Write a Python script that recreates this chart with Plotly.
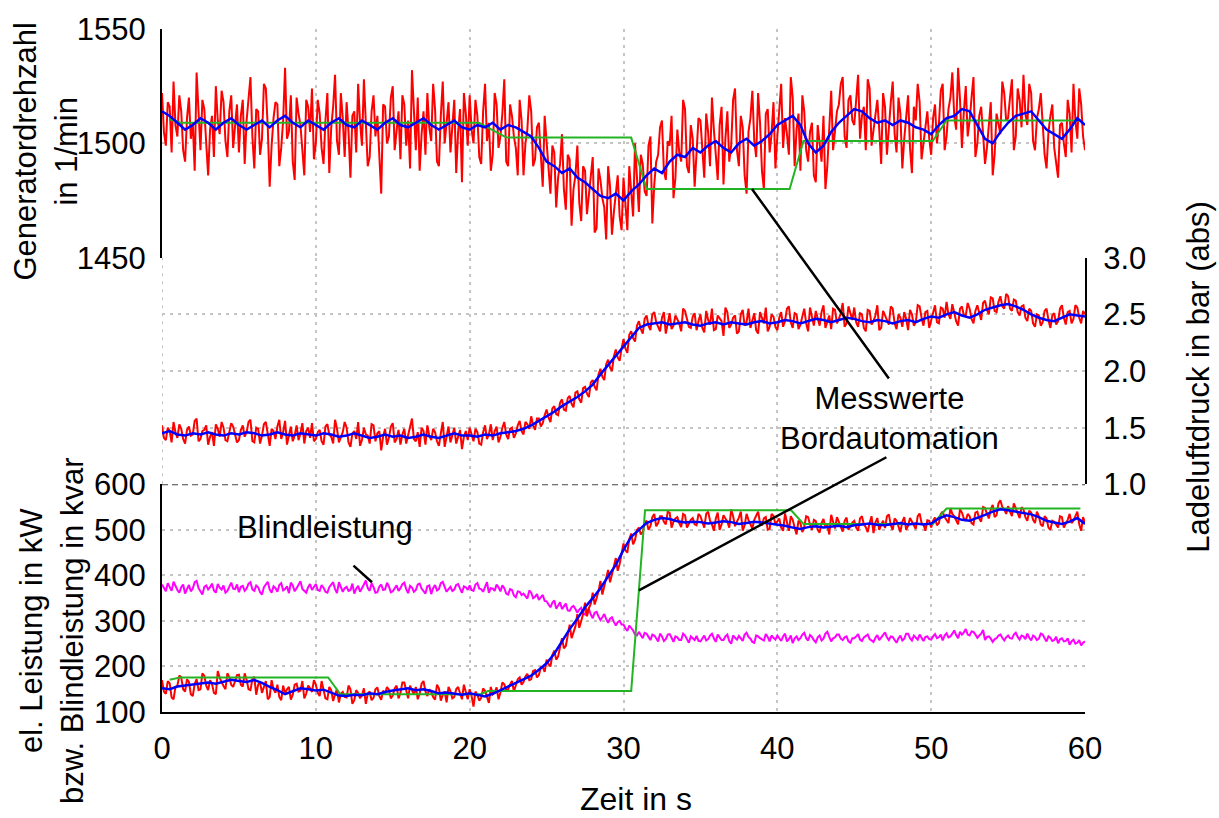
import numpy as np
import plotly.graph_objects as go

# ---------------- raw samples: "even" at t = 0, 0.25, ... 60 ; "odd" at t = 0.125, 0.375, ... 59.875 ----------------
# generator speed (1/min)
speed_raw_even = [
    1522, 1499, 1516, 1527, 1503, 1514, 1492, 1520, 1509, 1531, 1497, 1515, 1486, 1512, 1525, 1504, 1518, 1494, 1521, 1507,
    1496, 1519, 1510, 1529, 1489, 1514, 1502, 1524, 1481, 1511, 1517, 1498, 1533, 1505, 1492, 1520, 1508, 1486, 1516, 1524,
    1500, 1513, 1491, 1522, 1507, 1530, 1495, 1511, 1518, 1485, 1514, 1526, 1499, 1509, 1494, 1521, 1512, 1478, 1516, 1503,
    1525, 1506, 1493, 1517, 1510, 1532, 1497, 1488, 1514, 1522, 1501, 1515, 1490, 1527, 1508, 1496, 1519, 1505, 1483, 1513,
    1521, 1500, 1512, 1491, 1526, 1509, 1495, 1517, 1503, 1528, 1490, 1512, 1498, 1519, 1486, 1506, 1514, 1493, 1509, 1481,
    1500, 1478, 1496, 1485, 1504, 1471, 1493, 1480, 1499, 1466, 1488, 1477, 1494, 1463, 1484, 1472, 1490, 1460, 1479, 1468,
    1485, 1462, 1480, 1500, 1470, 1491, 1477, 1503, 1482, 1495, 1510, 1484, 1499, 1476, 1506, 1492, 1515, 1487, 1502, 1494,
    1510, 1485, 1505, 1520, 1493, 1508, 1482, 1514, 1499, 1524, 1490, 1507, 1478, 1511, 1501, 1522, 1488, 1513, 1496, 1518,
    1503, 1526, 1511, 1495, 1520, 1506, 1488, 1514, 1492, 1509, 1483, 1501, 1512, 1490, 1523, 1505, 1517, 1529, 1498, 1521,
    1508, 1530, 1512, 1497, 1524, 1505, 1519, 1491, 1516, 1509, 1527, 1496, 1513, 1502, 1521, 1487, 1510, 1518, 1500, 1514,
    1495, 1517, 1508, 1526, 1503, 1520, 1512, 1533, 1498, 1525, 1510, 1529, 1500, 1516, 1491, 1507, 1486, 1513, 1504, 1522,
    1511, 1528, 1503, 1519, 1530, 1508, 1522, 1497, 1515, 1506, 1489, 1512, 1498, 1485, 1509, 1494, 1513, 1526, 1502, 1517,
    1497,
]
speed_raw_odd = [
    1505, 1518, 1496, 1508, 1521, 1497, 1511, 1502, 1488, 1513, 1519, 1500, 1506, 1494, 1510, 1523, 1501, 1514, 1498, 1517,
    1512, 1491, 1520, 1503, 1515, 1495, 1526, 1507, 1499, 1518, 1490, 1510, 1502, 1521, 1484, 1513, 1497, 1519, 1505, 1493,
    1519, 1498, 1510, 1487, 1516, 1501, 1522, 1494, 1505, 1512, 1496, 1509, 1528, 1490, 1514, 1503, 1493, 1517, 1500, 1520,
    1497, 1514, 1521, 1499, 1489, 1511, 1520, 1504, 1495, 1507, 1526, 1492, 1512, 1500, 1518, 1509, 1487, 1515, 1522, 1499,
    1506, 1519, 1494, 1514, 1501, 1488, 1522, 1498, 1513, 1492, 1517, 1503, 1486, 1510, 1500, 1521, 1490, 1507, 1495, 1512,
    1487, 1499, 1472, 1491, 1480, 1495, 1464, 1486, 1474, 1490, 1469, 1483, 1461, 1489, 1476, 1458, 1481, 1470, 1486, 1462,
    1473, 1490, 1468, 1486, 1495, 1479, 1499, 1465, 1492, 1507, 1488, 1501, 1512, 1485, 1496, 1519, 1490, 1508, 1481, 1511,
    1497, 1513, 1490, 1506, 1484, 1516, 1502, 1492, 1519, 1497, 1512, 1486, 1505, 1523, 1494, 1509, 1480, 1515, 1504, 1489,
    1517, 1498, 1504, 1529, 1490, 1513, 1521, 1497, 1505, 1486, 1508, 1492, 1480, 1505, 1497, 1514, 1526, 1503, 1519, 1510,
    1521, 1502, 1516, 1528, 1499, 1513, 1506, 1522, 1495, 1518, 1504, 1520, 1489, 1511, 1498, 1516, 1526, 1493, 1509, 1502,
    1511, 1500, 1523, 1497, 1515, 1531, 1506, 1519, 1514, 1503, 1520, 1494, 1512, 1504, 1498, 1518, 1495, 1509, 1527, 1510,
    1520, 1497, 1524, 1507, 1513, 1526, 1501, 1511, 1522, 1495, 1505, 1517, 1492, 1508, 1500, 1519, 1496, 1510, 1524, 1503,
]
# smoothed speed, every 0.5 s
speed_avg = [
    1514, 1512, 1509, 1506, 1508, 1511, 1509, 1506, 1509, 1511,
    1508, 1506, 1508, 1510, 1507, 1510, 1512, 1509, 1507, 1510,
    1508, 1506, 1509, 1511, 1508, 1507, 1510, 1508, 1506, 1509,
    1511, 1508, 1507, 1509, 1511, 1508, 1506, 1508, 1510, 1507,
    1506, 1508, 1507, 1509, 1506, 1508, 1507, 1505, 1503, 1498,
    1492, 1490, 1487, 1489, 1485, 1483, 1480, 1477, 1476, 1478,
    1475, 1479, 1482, 1486, 1489, 1487, 1492, 1495, 1494, 1498,
    1496, 1499, 1501, 1498, 1496, 1500, 1502, 1499, 1501, 1504,
    1508, 1510, 1512, 1508, 1500, 1496, 1499, 1505, 1509, 1512,
    1515, 1514, 1511, 1509, 1510, 1508, 1510, 1509, 1507, 1506,
    1504, 1508, 1511, 1512, 1515, 1514, 1508, 1502, 1500, 1505,
    1509, 1512, 1513, 1514, 1510, 1506, 1504, 1502, 1506, 1511,
    1508,
]
speed_set_t = [0.5, 1.2, 20.6, 22.4, 30.5, 31.5, 40.8, 41.7, 50.1, 51.0, 59.8]
speed_set = [1510.5, 1509, 1509, 1502.5, 1502.5, 1480, 1480, 1501, 1501, 1510, 1510]

# charge air pressure (bar abs)
pressure_raw_even = [
    1.52, 1.39, 1.47, 1.55, 1.41, 1.49, 1.36, 1.51, 1.44, 1.58, 1.40, 1.48, 1.35, 1.46, 1.53, 1.42, 1.50, 1.38, 1.54, 1.44,
    1.39, 1.52, 1.46, 1.57, 1.37, 1.49, 1.43, 1.55, 1.34, 1.47, 1.51, 1.40, 1.56, 1.44, 1.38, 1.52, 1.45, 1.36, 1.50, 1.54,
    1.40, 1.48, 1.35, 1.53, 1.42, 1.57, 1.37, 1.46, 1.50, 1.33, 1.47, 1.55, 1.39, 1.44, 1.36, 1.52, 1.45, 1.30, 1.49, 1.41,
    1.54, 1.40, 1.35, 1.49, 1.43, 1.58, 1.38, 1.33, 1.47, 1.52, 1.39, 1.46, 1.34, 1.55, 1.42, 1.37, 1.50, 1.41, 1.31, 1.47,
    1.50, 1.38, 1.46, 1.35, 1.52, 1.44, 1.39, 1.51, 1.42, 1.55, 1.40, 1.50, 1.45, 1.56, 1.44, 1.53, 1.60, 1.48, 1.58, 1.54,
    1.66, 1.55, 1.69, 1.61, 1.75, 1.65, 1.78, 1.68, 1.82, 1.72, 1.86, 1.77, 1.92, 1.83, 2.02, 1.92, 2.10, 2.00, 2.19, 2.09,
    2.28, 2.16, 2.35, 2.26, 2.44, 2.33, 2.49, 2.36, 2.52, 2.38, 2.47, 2.33, 2.51, 2.40, 2.46, 2.35, 2.53, 2.39, 2.48, 2.36,
    2.50, 2.34, 2.45, 2.55, 2.37, 2.47, 2.31, 2.52, 2.41, 2.49, 2.35, 2.54, 2.43, 2.38, 2.51, 2.33, 2.47, 2.56, 2.39, 2.48,
    2.36, 2.52, 2.44, 2.57, 2.38, 2.50, 2.41, 2.55, 2.35, 2.48, 2.53, 2.40, 2.58, 2.44, 2.37, 2.54, 2.46, 2.60, 2.42, 2.51,
    2.56, 2.39, 2.50, 2.35, 2.53, 2.44, 2.58, 2.38, 2.49, 2.41, 2.55, 2.37, 2.47, 2.52, 2.36, 2.50, 2.43, 2.57, 2.40, 2.53,
    2.45, 2.58, 2.42, 2.55, 2.61, 2.46, 2.52, 2.40, 2.57, 2.49, 2.55, 2.42, 2.58, 2.45, 2.62, 2.50, 2.64, 2.52, 2.66, 2.55,
    2.66, 2.53, 2.62, 2.49, 2.58, 2.44, 2.53, 2.39, 2.49, 2.43, 2.55, 2.38, 2.51, 2.44, 2.58, 2.41, 2.53, 2.46, 2.56, 2.42,
    2.50,
]
pressure_raw_odd = [
    1.41, 1.50, 1.37, 1.46, 1.53, 1.40, 1.48, 1.43, 1.56, 1.38, 1.47, 1.52, 1.42, 1.34, 1.49, 1.55, 1.39, 1.45, 1.51, 1.37,
    1.48, 1.42, 1.55, 1.38, 1.50, 1.36, 1.53, 1.44, 1.49, 1.40, 1.57, 1.46, 1.35, 1.51, 1.43, 1.39, 1.54, 1.47, 1.41, 1.38,
    1.46, 1.38, 1.51, 1.44, 1.36, 1.49, 1.41, 1.55, 1.37, 1.45, 1.40, 1.34, 1.50, 1.43, 1.53, 1.38, 1.47, 1.42, 1.35, 1.51,
    1.37, 1.48, 1.44, 1.36, 1.52, 1.40, 1.46, 1.50, 1.35, 1.43, 1.49, 1.38, 1.45, 1.33, 1.51, 1.44, 1.36, 1.48, 1.42, 1.39,
    1.43, 1.49, 1.36, 1.46, 1.40, 1.53, 1.47, 1.37, 1.50, 1.44, 1.49, 1.41, 1.52, 1.47, 1.55, 1.49, 1.52, 1.58, 1.51, 1.61,
    1.59, 1.67, 1.62, 1.72, 1.66, 1.76, 1.71, 1.81, 1.75, 1.85, 1.80, 1.90, 1.86, 1.97, 1.95, 2.06, 2.03, 2.13, 2.12, 2.20,
    2.20, 2.32, 2.29, 2.40, 2.37, 2.46, 2.40, 2.50, 2.43, 2.35, 2.52, 2.44, 2.37, 2.49, 2.42, 2.55, 2.45, 2.38, 2.51, 2.44,
    2.38, 2.53, 2.41, 2.36, 2.49, 2.44, 2.56, 2.38, 2.47, 2.33, 2.50, 2.40, 2.55, 2.45, 2.36, 2.52, 2.42, 2.35, 2.50, 2.39,
    2.47, 2.39, 2.55, 2.43, 2.51, 2.37, 2.48, 2.42, 2.56, 2.40, 2.46, 2.52, 2.38, 2.49, 2.55, 2.42, 2.51, 2.39, 2.57, 2.45,
    2.43, 2.51, 2.38, 2.54, 2.41, 2.49, 2.36, 2.53, 2.45, 2.57, 2.42, 2.50, 2.39, 2.46, 2.54, 2.40, 2.58, 2.47, 2.52, 2.38,
    2.52, 2.43, 2.56, 2.47, 2.50, 2.59, 2.44, 2.55, 2.49, 2.60, 2.46, 2.53, 2.50, 2.60, 2.54, 2.65, 2.53, 2.61, 2.57, 2.68,
    2.55, 2.63, 2.52, 2.57, 2.47, 2.55, 2.42, 2.50, 2.40, 2.53, 2.45, 2.49, 2.41, 2.55, 2.47, 2.52, 2.42, 2.58, 2.47, 2.53,
]
pressure_avg = [
    1.45, 1.47, 1.44, 1.43, 1.45, 1.44, 1.46, 1.44, 1.43, 1.45,
    1.44, 1.46, 1.45, 1.43, 1.44, 1.46, 1.44, 1.43, 1.45, 1.44,
    1.43, 1.45, 1.44, 1.42, 1.43, 1.45, 1.43, 1.41, 1.42, 1.44,
    1.42, 1.43, 1.41, 1.42, 1.44, 1.42, 1.41, 1.43, 1.45, 1.43,
    1.43, 1.42, 1.44, 1.43, 1.45, 1.46, 1.47, 1.49, 1.52, 1.56,
    1.60, 1.64, 1.69, 1.73, 1.77, 1.82, 1.88, 1.97, 2.05, 2.13,
    2.21, 2.30, 2.38, 2.41, 2.42, 2.43, 2.41, 2.42, 2.43, 2.41,
    2.40, 2.42, 2.43, 2.41, 2.43, 2.42, 2.41, 2.43, 2.44, 2.42,
    2.43, 2.45, 2.44, 2.42, 2.44, 2.46, 2.45, 2.43, 2.45, 2.47,
    2.46, 2.44, 2.43, 2.45, 2.44, 2.42, 2.44, 2.45, 2.43, 2.46,
    2.48, 2.47, 2.50, 2.52, 2.49, 2.47, 2.50, 2.54, 2.56, 2.58,
    2.59, 2.57, 2.54, 2.50, 2.47, 2.45, 2.44, 2.47, 2.50, 2.49,
    2.48,
]

# electrical power (kW)
power_raw_even = [
    170, 140, 163, 128, 158, 176, 145, 166, 135, 172, 150, 180, 148, 162, 139, 175, 157, 185, 160, 168,
    182, 156, 171, 148, 177, 160, 142, 168, 133, 150, 160, 126, 141, 155, 138, 162, 147, 130, 158, 144,
    160, 135, 152, 128, 148, 139, 121, 144, 132, 150, 126, 142, 137, 118, 145, 131, 154, 127, 140, 149,
    136, 158, 142, 165, 130, 149, 155, 140, 168, 135, 144, 127, 152, 138, 121, 146, 133, 155, 128, 142,
    150, 112, 138, 131, 146, 120, 139, 154, 143, 161, 150, 168, 158, 176, 166, 184, 172, 192, 181, 199,
    215, 200, 235, 222, 262, 245, 292, 276, 315, 300, 340, 328, 362, 350, 388, 376, 412, 400, 438, 425,
    470, 450, 492, 478, 505, 495, 520, 508, 535, 515, 530, 512, 538, 518, 528, 506, 532, 515, 526, 510,
    530, 505, 540, 512, 525, 500, 532, 518, 545, 508, 527, 498, 535, 514, 522, 540, 510, 528, 502, 531,
    518, 505, 536, 498, 522, 490, 515, 507, 528, 500, 519, 494, 524, 510, 533, 503, 517, 496, 527, 508,
    520, 498, 530, 506, 515, 493, 526, 511, 504, 534, 500, 520, 495, 528, 509, 517, 502, 536, 512, 521,
    505, 527, 515, 540, 522, 548, 530, 512, 538, 520, 530, 512, 540, 518, 548, 525, 555, 532, 565, 545,
    552, 530, 548, 526, 545, 520, 538, 515, 530, 508, 525, 500, 518, 505, 528, 512, 535, 520, 540, 498,
    515,
]
power_raw_odd = [
    145, 168, 132, 155, 180, 150, 172, 139, 162, 148, 185, 158, 170, 142, 190, 165, 150, 176, 155, 181,
    160, 185, 150, 172, 138, 165, 155, 128, 170, 142, 133, 158, 150, 127, 160, 145, 168, 140, 152, 170,
    142, 168, 130, 155, 124, 150, 140, 133, 158, 118, 148, 130, 152, 140, 126, 150, 135, 147, 155, 130,
    152, 130, 165, 145, 158, 138, 128, 162, 145, 150, 133, 160, 125, 145, 155, 130, 150, 140, 160, 128,
    135, 145, 125, 152, 130, 155, 143, 128, 165, 148, 160, 145, 172, 160, 178, 170, 190, 176, 198, 188,
    205, 225, 215, 245, 240, 268, 262, 288, 285, 315, 310, 338, 336, 365, 358, 392, 385, 420, 410, 445,
    455, 480, 468, 500, 490, 515, 500, 528, 508, 530, 518, 540, 505, 525, 515, 535, 505, 522, 512, 535,
    515, 535, 520, 498, 538, 512, 525, 505, 530, 518, 540, 510, 522, 503, 532, 515, 525, 500, 535, 512,
    525, 498, 515, 530, 505, 520, 495, 530, 512, 522, 500, 515, 505, 490, 518, 528, 508, 520, 500, 516,
    505, 525, 512, 495, 530, 516, 500, 520, 530, 510, 525, 505, 518, 500, 526, 510, 530, 515, 498, 520,
    520, 510, 535, 528, 515, 535, 522, 545, 525, 535, 515, 538, 525, 550, 535, 545, 528, 558, 550, 535,
    540, 558, 535, 550, 528, 542, 522, 540, 512, 530, 505, 520, 512, 530, 505, 522, 515, 532, 512, 528,
]
power_avg = [
    152, 150, 156, 158, 160, 163, 165, 162, 167, 171,
    168, 166, 170, 164, 155, 148, 139, 145, 152, 150,
    147, 149, 143, 136, 135, 138, 137, 141, 139, 144,
    147, 150, 152, 148, 150, 146, 141, 143, 140, 138,
    141, 137, 134, 140, 148, 155, 163, 172, 180, 193,
    207, 228, 255, 282, 305, 330, 350, 372, 398, 423,
    456, 485, 500, 515, 522, 526, 524, 519, 516, 518,
    517, 514, 516, 519, 517, 513, 515, 518, 516, 514,
    512, 509, 505, 502, 506, 508, 505, 507, 509, 506,
    510, 512, 514, 511, 510, 513, 515, 512, 514, 512,
    514, 525, 532, 528, 522, 520, 526, 533, 540, 545,
    543, 540, 538, 534, 528, 520, 516, 513, 518, 526,
    513,
]
power_set_t = [0.5, 1.2, 10.8, 11.6, 20.7, 21.2, 30.5, 31.4, 40.9, 41.7, 50.1, 51.0, 59.7]
power_set = [171, 176, 176, 139, 139, 146, 146, 543, 543, 513, 513, 547, 547]

# reactive power (kvar)
reactive_raw_even = [
    380, 365, 376, 386, 368, 374, 360, 379, 371, 388, 364, 375, 369, 382, 362, 373, 378, 366, 384, 370,
    363, 377, 371, 385, 366, 374, 358, 380, 369, 376, 364, 383, 370, 361, 378, 372, 387, 365, 374, 368,
    381, 366, 373, 362, 379, 370, 385, 364, 375, 368, 360, 377, 371, 389, 366, 374, 363, 380, 369, 376,
    365, 378, 372, 384, 361, 373, 368, 382, 366, 376, 359, 379, 370, 386, 364, 375, 369, 381, 362, 374,
    378, 366, 383, 370, 375, 362, 371, 380, 365, 372, 358, 368, 352, 364, 360, 349, 362, 353, 346, 357,
    343, 330, 345, 334, 326, 338, 322, 333, 318, 329, 314, 326, 306, 320, 302, 315, 296, 308, 290, 300,
    292, 278, 285, 270, 276, 262, 272, 258, 268, 255, 266, 260, 271, 254, 264, 258, 268, 252, 263, 267,
    255, 268, 260, 272, 254, 265, 258, 270, 250, 263, 267, 256, 274, 261, 252, 266, 259, 271, 255, 263,
    268, 256, 272, 260, 251, 266, 262, 274, 257, 265, 253, 268, 261, 276, 255, 264, 270, 258, 266, 252,
    262, 271, 256, 267, 260, 254, 269, 263, 275, 258, 265, 252, 268, 261, 272, 257, 264, 270, 256, 266,
    259, 271, 264, 257, 273, 266, 279, 262, 270, 282, 268, 276, 263, 272, 258, 266, 254, 262, 270, 257,
    268, 261, 274, 259, 266, 272, 257, 265, 261, 270, 255, 263, 258, 251, 262, 256, 248, 259, 252, 246,
    255,
]
reactive_raw_odd = [
    371, 383, 366, 375, 362, 380, 370, 365, 385, 372, 358, 378, 374, 367, 381, 369, 362, 377, 371, 380,
    375, 366, 382, 369, 378, 363, 374, 386, 362, 372, 379, 367, 376, 384, 365, 380, 370, 362, 381, 374,
    368, 379, 364, 374, 385, 361, 376, 372, 366, 382, 371, 364, 380, 372, 383, 362, 375, 368, 384, 363,
    373, 366, 381, 370, 377, 364, 380, 371, 360, 378, 372, 367, 383, 375, 370, 366, 379, 371, 376, 368,
    368, 380, 371, 364, 385, 372, 366, 374, 378, 360, 370, 356, 365, 357, 355, 367, 350, 359, 352, 344,
    336, 340, 327, 341, 332, 323, 330, 326, 325, 316, 322, 314, 318, 310, 308, 304, 305, 298, 297, 292,
    284, 290, 279, 268, 270, 274, 265, 270, 262, 272, 256, 270, 263, 266, 258, 272, 260, 266, 258, 256,
    262, 257, 268, 262, 270, 258, 266, 256, 268, 259, 262, 270, 265, 254, 268, 262, 257, 265, 268, 259,
    262, 266, 255, 268, 262, 258, 270, 262, 269, 258, 264, 257, 272, 265, 262, 270, 261, 264, 255, 262,
    266, 259, 264, 270, 257, 263, 258, 270, 264, 266, 258, 262, 257, 272, 262, 268, 259, 262, 265, 260,
    266, 262, 270, 268, 264, 272, 269, 276, 275, 270, 277, 270, 268, 280, 265, 261, 260, 268, 263, 264,
    262, 270, 265, 268, 260, 263, 268, 258, 272, 262, 266, 256, 265, 260, 255, 262, 255, 250, 258, 252,
]


def merge(even, odd):
    """Put the two sample sets into time order (0.125 s raster)."""
    xs, ys = [], []
    for i, v in enumerate(even):
        xs.append(round(i * 0.25, 3)); ys.append(v)
        if i < len(odd):
            xs.append(round(i * 0.25 + 0.125, 3)); ys.append(odd[i])
    return xs, ys


t_avg = [round(i * 0.5, 2) for i in range(len(speed_avg))]
ts, speed_raw = merge(speed_raw_even, speed_raw_odd)
tp, pressure_raw = merge(pressure_raw_even, pressure_raw_odd)
te, power_raw = merge(power_raw_even, power_raw_odd)
tq, reactive_raw = merge(reactive_raw_even, reactive_raw_odd)

RED, BLUE, GREEN, MAGENTA = "#ff0000", "#0000ff", "#22b422", "#ff00ff"
FONT = "Liberation Sans, Arial, sans-serif"
FS = 31
GRIDCOL = "#c4c4c4"
GRID = dict(showgrid=True, gridcolor=GRIDCOL, griddash="3px,5px", gridwidth=2, zeroline=False)
RW = 2.0

fig = go.Figure()
# bottom panel
fig.add_trace(go.Scatter(x=tq, y=reactive_raw, mode="lines", line=dict(color=MAGENTA, width=RW), xaxis="x", yaxis="y3"))
fig.add_trace(go.Scatter(x=te, y=power_raw, mode="lines", line=dict(color=RED, width=RW), xaxis="x", yaxis="y3"))
fig.add_trace(go.Scatter(x=power_set_t, y=power_set, mode="lines", line=dict(color=GREEN, width=2), xaxis="x", yaxis="y3"))
fig.add_trace(go.Scatter(x=t_avg, y=power_avg, mode="lines", line=dict(color=BLUE, width=2.5), xaxis="x", yaxis="y3"))
# middle panel
fig.add_trace(go.Scatter(x=tp, y=pressure_raw, mode="lines", line=dict(color=RED, width=RW), xaxis="x", yaxis="y2"))
fig.add_trace(go.Scatter(x=t_avg, y=pressure_avg, mode="lines", line=dict(color=BLUE, width=2.5), xaxis="x", yaxis="y2"))
# top panel
fig.add_trace(go.Scatter(x=ts, y=speed_raw, mode="lines", line=dict(color=RED, width=RW), xaxis="x", yaxis="y"))
fig.add_trace(go.Scatter(x=speed_set_t, y=speed_set, mode="lines", line=dict(color=GREEN, width=2), xaxis="x", yaxis="y"))
fig.add_trace(go.Scatter(x=t_avg, y=speed_avg, mode="lines", line=dict(color=BLUE, width=2.5), xaxis="x", yaxis="y"))

d1 = 230 / 690
d2 = 459 / 690

fig.update_layout(
    width=1219, height=818,
    margin=dict(l=162, r=134, t=22, b=106),
    plot_bgcolor="white", paper_bgcolor="white",
    showlegend=False,
    font=dict(family=FONT, size=FS, color="black"),
    xaxis=dict(range=[0, 60], tick0=0, dtick=10, anchor="y3", showline=True, linecolor="black",
               linewidth=2, ticks="", ticklabelstandoff=8, **GRID),
    yaxis=dict(domain=[d2, 1], range=[1450, 1550], tickvals=[1450, 1500, 1550], anchor="x",
               showline=True, linecolor="black", linewidth=2, ticks="", ticklabelstandoff=8, **GRID),
    yaxis2=dict(domain=[d1, d2], range=[1.0, 3.0], dtick=0.5, tick0=1.0, tickformat=".1f", side="right",
                anchor="x", showline=True, linecolor="black", linewidth=2, ticks="", ticklabelstandoff=10, **GRID),
    yaxis3=dict(domain=[0, d1], range=[100, 600], dtick=100, tick0=100, anchor="x",
                showline=True, linecolor="black", linewidth=2, ticks="", ticklabelstandoff=8, **GRID),
)

# dashed separator between middle and bottom panel, dotted left edge of middle panel
fig.add_shape(type="line", xref="x domain", yref="y3", x0=0, x1=1, y0=600, y1=600,
              line=dict(color="#444444", width=2, dash="6px,4px"))
fig.add_shape(type="line", xref="x", yref="y2 domain", x0=0, x1=0, y0=0, y1=1, layer="below",
              line=dict(color=GRIDCOL, width=2, dash="3px,5px"))

ann = []
# axis titles
ann.append(dict(text="Generatordrehzahl<br>in 1/min", xref="paper", yref="paper", x=-0.1257, y=0.822,
                textangle=-90, showarrow=False, xanchor="center", yanchor="middle"))
ann.append(dict(text="el. Leistung in kW<br>bzw. Blindleistung in kvar", xref="paper", yref="paper",
                x=-0.119, y=0.119, textangle=-90, showarrow=False, xanchor="center", yanchor="middle"))
ann.append(dict(text="Ladeluftdruck in bar (abs)", xref="paper", yref="paper", x=1.1235, y=0.491,
                textangle=-90, showarrow=False, xanchor="center", yanchor="middle"))
ann.append(dict(text="Zeit in s", xref="paper", yref="paper", x=0.5135, y=-0.1275,
                showarrow=False, xanchor="center", yanchor="middle", font=dict(size=32)))
# labels
ann.append(dict(text="Blindleistung", xref="x", yref="y3", x=10.6, y=506, showarrow=False,
                xanchor="center", yanchor="middle"))
ann.append(dict(text="Messwerte<br>Bordautomation", xref="x", yref="y2", x=47.3, y=1.585, showarrow=False,
                xanchor="center", yanchor="middle"))
# pointer lines
for (xx, yy, yr, axp, ayp) in [(38.35, 1480, "y", 138, 191), (31.0, 367, "y3", 249, -134), (13.65, 385, "y3", -20, -18)]:
    ann.append(dict(text="", xref="x", yref=yr, x=xx, y=yy, ax=axp, ay=ayp, showarrow=True,
                    arrowhead=0, arrowwidth=2.5, arrowcolor="black", standoff=0, startstandoff=0))
fig.update_layout(annotations=ann)

fig.write_html("out.html")
